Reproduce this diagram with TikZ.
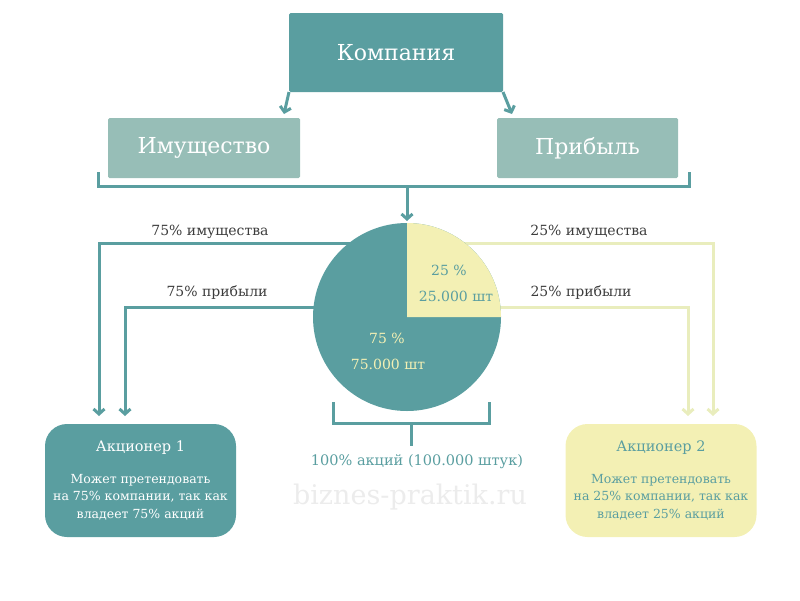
\documentclass[tikz,border=0pt]{standalone}
\usepackage{fontspec}
\setmainfont{DejaVu Serif}
\usetikzlibrary{arrows.meta}
\definecolor{tealc}{HTML}{5A9EA0}
\definecolor{ltteal}{HTML}{97BEB7}
\definecolor{yel}{HTML}{F3F0B4}
\definecolor{yelline}{HTML}{E9EDBD}
\definecolor{txt}{HTML}{3C3C3C}
\definecolor{wm}{HTML}{ECECEC}
\begin{document}
\begin{tikzpicture}[x=1pt,y=-1pt,
  tl/.style={draw=tealc,line width=3pt},
  yl/.style={draw=yelline,line width=3pt},
  tip/.style={-{Straight Barb[length=5pt,width=11pt]}},
  bigbox/.style={fill=tealc,text=white,minimum width=214pt,minimum height=79pt,inner sep=0pt,outer sep=0pt,font=\fontsize{22}{26}\selectfont,rounded corners=1.5pt},
  midbox/.style={fill=ltteal,text=white,minimum height=60pt,inner sep=0pt,outer sep=0pt,font=\fontsize{22}{26}\selectfont,rounded corners=1.5pt},
  lbl/.style={text=txt,font=\fontsize{14}{16}\selectfont,inner sep=0pt},
  shbox/.style={minimum width=191pt,minimum height=113pt,rounded corners=22pt,inner sep=0pt,outer sep=0pt,align=center,font=\fontsize{12.5}{17.5}\selectfont},
  ttl/.style={font=\fontsize{14}{16}\selectfont}
]
\useasboundingbox (0,0) rectangle (800,600);
% top boxes
\node[bigbox] (comp) at (396,52.5) {Компания};
\node[midbox,minimum width=192pt] (imu) at (204,148) {Имущество};
\node[midbox,minimum width=181pt] (prib) at (587.5,148) {Прибыль};
\coordinate (cL) at (284,114);
\coordinate (cR) at (512,114);
\draw[tl,tip] (comp.south west) -- (cL);
\draw[tl,tip] (comp.south east) -- (cR);
% top bracket
\coordinate (b1) at (98,172);
\coordinate (b2) at (689,172);
\coordinate (bm) at (407,186);
\coordinate (pt) at (407,221);
\draw[tl] (b1) -- (b1 |- bm) -- (b2 |- bm) -- (b2);
\draw[tl,tip] (bm) -- (pt);
% shareholders
\node[shbox,fill=tealc,text=white] (s1) at (140.5,480.5)
  {{\fontsize{14.5}{16}\selectfont Акционер 1}\\[14pt]Может претендовать\\на 75\% компании, так как\\владеет 75\% акций};
\node[shbox,fill=yel,text=tealc] (s2) at (661,480.5)
  {{\fontsize{14.5}{16}\selectfont Акционер 2}\\[14pt]Может претендовать\\на 25\% компании, так как\\владеет 25\% акций};
% connectors from pie
\coordinate (pc) at (407,317);
\coordinate (a1) at (99,243);
\coordinate (a2) at (125,307);
\coordinate (a3) at (713,243);
\coordinate (a4) at (688,307);
\draw[tl,tip,shorten >=8pt] (pc |- a1) -- (a1) -- (a1 |- s1.north);
\draw[tl,tip,shorten >=8pt] (pc |- a2) -- (a2) -- (a2 |- s1.north);
\draw[yl,tip,shorten >=8pt] (pc |- a3) -- (a3) -- (a3 |- s2.north);
\draw[yl,tip,shorten >=8pt] (pc |- a4) -- (a4) -- (a4 |- s2.north);
% pie
\node[circle,fill=tealc,minimum size=188pt,inner sep=0pt,outer sep=0pt] (pie) at (pc) {};
\fill[yel] (pie.center) -- (pie.east) arc (0:-90:94) -- cycle;
\node[text=tealc,font=\fontsize{14}{16}\selectfont] (p25) at (449,270) {25 \%};
\node[text=tealc,font=\fontsize{14}{16}\selectfont] (p25n) at (456,296) {25.000 шт};
\node[text=yel,font=\fontsize{14}{16}\selectfont] (p75) at (387,338) {75 \%};
\node[text=yel,font=\fontsize{14}{16}\selectfont] (p75n) at (388,364) {75.000 шт};
% labels
\node[lbl] (l1) at (210,232) {75\% имущества};
\node[lbl] (l2) at (217,293) {75\% прибыли};
\node[lbl] (l3) at (589,232) {25\% имущества};
\node[lbl] (l4) at (581,293) {25\% прибыли};
% bottom bracket
\coordinate (c1) at (333,402);
\coordinate (c2) at (489,402);
\coordinate (cm) at (411,423);
\coordinate (ce) at (411,446);
\draw[tl] (c1) -- (c1 |- cm) -- (c2 |- cm) -- (c2);
\draw[tl] (cm) -- (ce);
\node[text=tealc,font=\fontsize{14.5}{16}\selectfont] (tot) at (417,462) {100\% акций (100.000 штук)};
\node[text=wm,font=\fontsize{27}{30}\selectfont] (wmk) at (410,497) {biznes-praktik.ru};
\end{tikzpicture}
\end{document}
